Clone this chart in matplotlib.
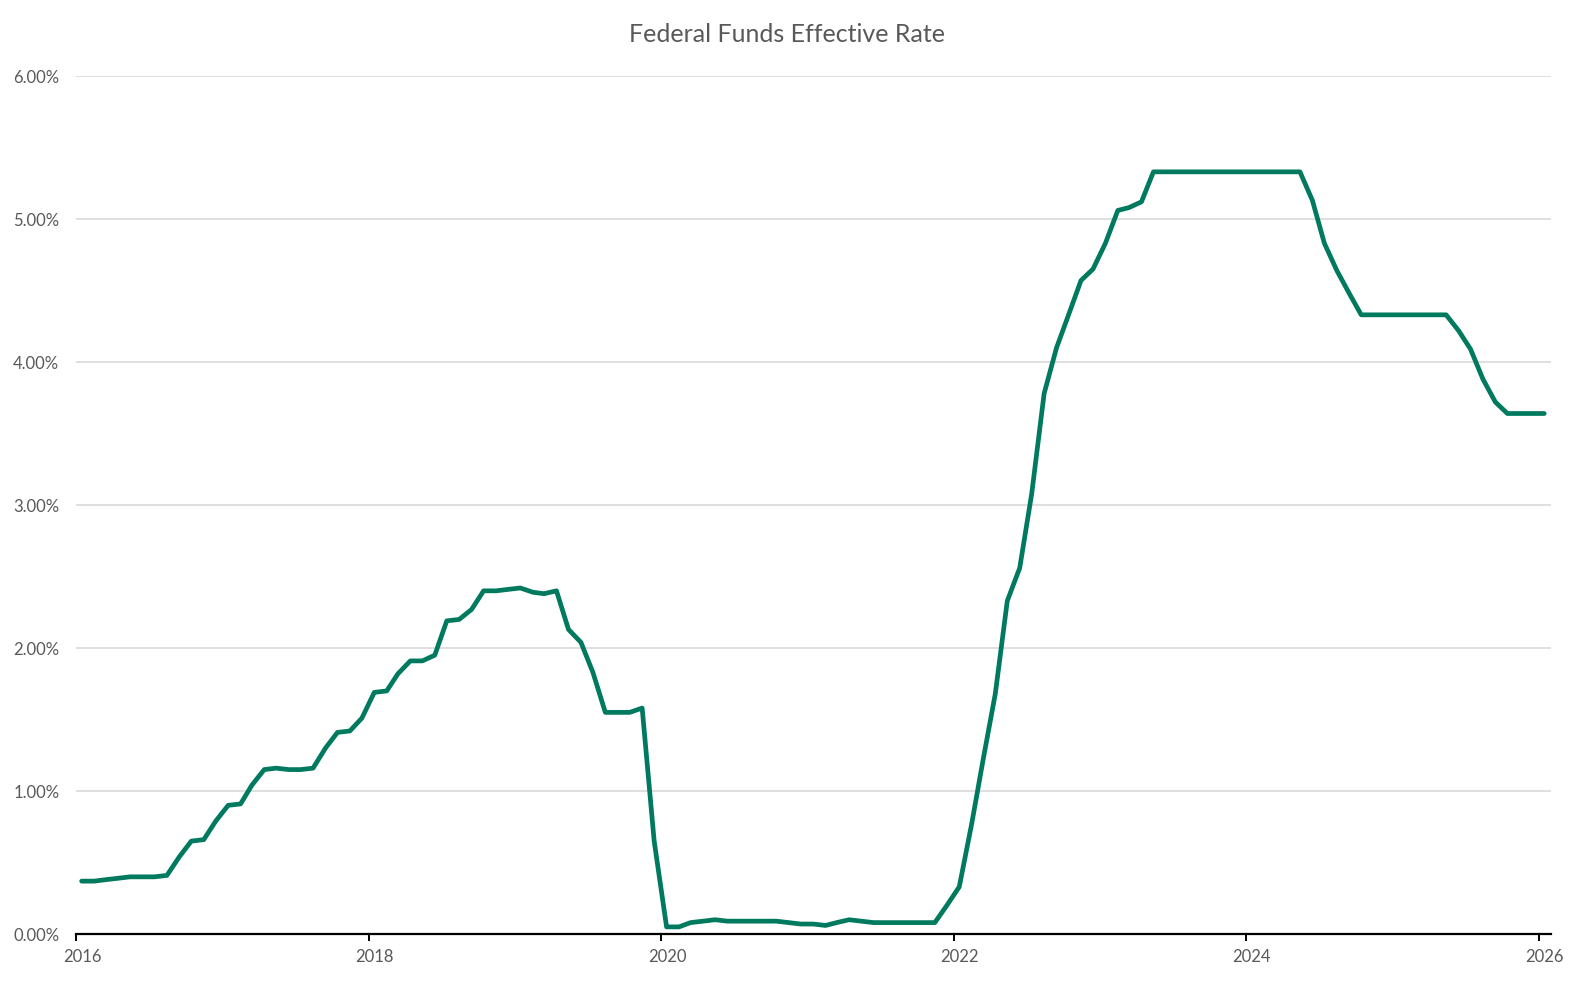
import matplotlib.pyplot as plt
import matplotlib.dates as mdates
import matplotlib.transforms as mtransforms
from matplotlib.ticker import FuncFormatter
import datetime as dt

# monthly values (percent), plotted mid-month starting Jan 2016
rates = [
    0.37, 0.37, 0.38, 0.39, 0.40, 0.40, 0.40, 0.41, 0.54,
    0.65, 0.66, 0.79, 0.90, 0.91, 1.04, 1.15, 1.16, 1.15, 1.15, 1.16, 1.30,
    1.41, 1.42, 1.51, 1.69, 1.70, 1.82, 1.91, 1.91, 1.95, 2.19, 2.20, 2.27,
    2.40, 2.40, 2.41, 2.42, 2.39, 2.38, 2.40, 2.13, 2.04, 1.83, 1.55, 1.55,
    1.55, 1.58, 0.65, 0.05, 0.05, 0.08, 0.09, 0.10, 0.09, 0.09, 0.09, 0.09,
    0.09, 0.08, 0.07, 0.07, 0.06, 0.08, 0.10, 0.09, 0.08, 0.08, 0.08, 0.08,
    0.08, 0.08, 0.20, 0.33, 0.77, 1.21, 1.68, 2.33, 2.56, 3.08, 3.78, 4.10,
    4.33, 4.57, 4.65, 4.83, 5.06, 5.08, 5.12, 5.33, 5.33, 5.33, 5.33, 5.33,
    5.33, 5.33, 5.33, 5.33, 5.33, 5.33, 5.33, 5.33, 5.13, 4.83, 4.64, 4.48,
    4.33, 4.33, 4.33, 4.33, 4.33, 4.33, 4.33, 4.33, 4.22, 4.09, 3.88, 3.72,
    3.64, 3.64, 3.64, 3.64,
]
dates = [dt.date(2016 + i // 12, i % 12 + 1, 15) for i in range(len(rates))]
tick_years = [2016, 2018, 2020, 2022, 2024, 2026]
y_ticks = [0, 1, 2, 3, 4, 5, 6]

grey = '#595959'
plt.rcParams['font.family'] = ['Lato', 'DejaVu Sans']

fig = plt.figure(figsize=(15.74, 9.86), dpi=100)
ax = fig.add_axes([0.0483, 0.0527, 0.9371, 0.8702])

ax.plot(dates, rates, color='#007A5E', linewidth=3.4, solid_joinstyle='round', solid_capstyle='round')

ax.set_xlim(dt.date(2016, 1, 1), dt.date(2026, 2, 1))
ax.set_ylim(0, 6)
ax.set_yticks(y_ticks)
ax.yaxis.set_major_formatter(FuncFormatter(lambda v, p: '%.2f%%' % v))
ax.set_xticks([dt.date(y, 1, 1) for y in tick_years])
ax.xaxis.set_major_formatter(mdates.DateFormatter('%Y'))

ax.grid(axis='y', color='#D9D9D9', linewidth=1.2)
ax.set_axisbelow(True)
for s in ['left', 'right', 'top']:
    ax.spines[s].set_visible(False)
ax.spines['bottom'].set_color('black')
ax.spines['bottom'].set_linewidth(1.6)
ax.tick_params(axis='y', length=0, labelsize=12, labelcolor=grey, pad=12)
ax.tick_params(axis='x', length=5, width=1.4, labelsize=12, labelcolor=grey, pad=6)

# Excel-like: year labels sit a little right of their tick
shift = mtransforms.ScaledTranslation(6 / 100, 0, fig.dpi_scale_trans)
for lbl in ax.get_xticklabels():
    lbl.set_transform(lbl.get_transform() + shift)

fig.text(0.5, 0.965, 'Federal Funds Effective Rate', ha='center', va='center', fontsize=18, color=grey)

fig.savefig('out.png')
